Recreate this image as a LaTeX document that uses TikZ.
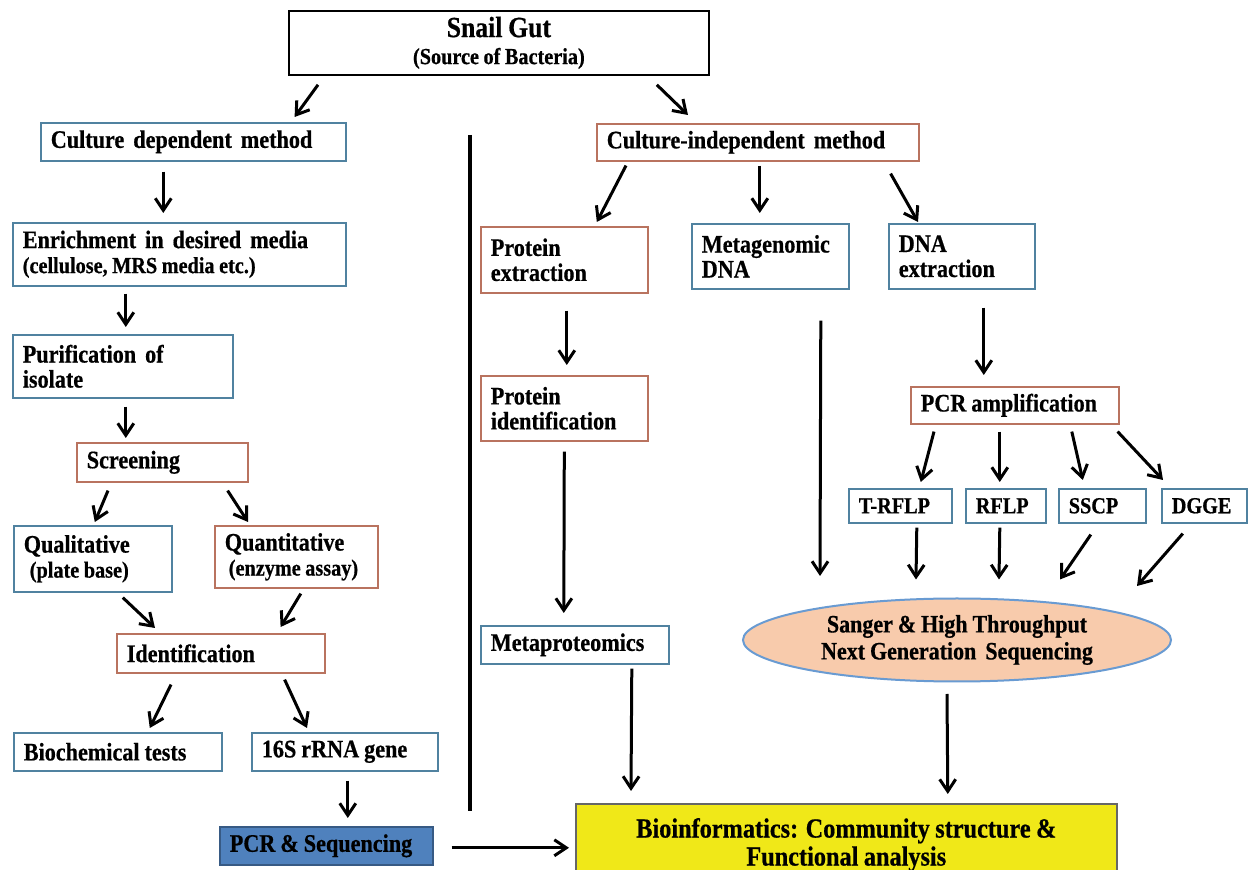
\documentclass[tikz,border=0pt]{standalone}
\usepackage{fontspec}
\setmainfont{Liberation Serif}[FakeStretch=0.88,FakeBold=0.6,WordSpace=0.9]
\usepackage{tikz}
\usetikzlibrary{positioning,arrows.meta,shapes.geometric}
\definecolor{boxline}{RGB}{80,130,160}
\definecolor{boxred}{RGB}{185,115,95}
\definecolor{bioyellow}{RGB}{240,232,24}
\definecolor{seqblue}{RGB}{79,129,189}
\definecolor{peach}{RGB}{248,203,172}
\definecolor{ellline}{RGB}{105,155,210}
\newcommand{\smalltxt}{\fontsize{11.5}{12.5}\selectfont}
\newcommand{\wgap}{\hspace{4.5pt}}
\tikzset{
  box/.style={draw=boxline,line width=0.8pt,anchor=north west,align=flush left,
    inner xsep=5pt,inner ysep=0pt,font=\bfseries\fontsize{12.6}{12.5}\selectfont},
  rbox/.style={box,draw=boxred},
  tbox/.style={box,font=\bfseries\fontsize{11.5}{12}\selectfont},
  flow/.style={line width=1.5pt,-{Straight Barb[length=6pt,width=8pt,line width=1.5pt]}},
  divider/.style={line width=1.6pt}
}

\begin{document}
\begin{tikzpicture}[x=0.5pt,y=-0.5pt]
      \useasboundingbox[fill=white] (0,0) rectangle (1248,870);
      % source
      \node[box,draw=black,line width=0.9pt,align=center,minimum width=210pt,minimum height=32pt] (gut) at (288,10)
        {{\fontsize{14.6}{13}\selectfont Snail Gut}\\[1pt]{\fontsize{11.5}{12}\selectfont (Source of Bacteria)}};
      % culture dependent branch
      \node[box,text width=142.5pt,minimum height=19pt] (dep) at (40,122) {Culture\wgap dependent\wgap method};
      \node[box,text width=156.5pt,minimum height=31.5pt] (enrich) at (12,222)
        {Enrichment\wgap in\wgap desired\wgap media\\{\smalltxt (cellulose, MRS media etc.)}};
      \node[box,text width=100pt,minimum height=31.5pt] (purify) at (12,334) {Purification\wgap of\\isolate};
      \node[rbox,text width=75.5pt,minimum height=19.5pt] (screen) at (76,442) {Screening};
      \node[box,text width=69pt,minimum height=33pt] (qual) at (13,525) {Qualitative\\\hspace*{3pt}{\smalltxt(plate base)}};
      \node[rbox,text width=71.5pt,minimum height=31pt] (quant) at (214,525) {Quantitative\\\hspace*{2pt}{\smalltxt(enzyme assay)}};
      \node[rbox,text width=94pt,minimum height=19.5pt] (ident) at (116,633) {Identification};
      \node[box,text width=94pt,minimum height=19pt] (biochem) at (13,732) {Biochemical tests};
      \node[box,text width=83pt,minimum height=19pt] (rrna) at (251,732) {16S rRNA gene};
      \node[box,draw=seqblue!70!black,fill=seqblue,text width=96.5pt,minimum height=19pt] (pcrseq) at (219,826) {PCR \& Sequencing};
      % culture independent branch
      \node[rbox,text width=151pt,minimum height=18.5pt] (indep) at (596,123) {Culture-independent\wgap method};
      \node[rbox,text width=73.5pt,minimum height=33pt] (protext) at (480,226) {Protein\\extraction};
      \node[box,text width=68.5pt,minimum height=32.5pt] (metadna) at (691,223) {Metagenomic\\DNA};
      \node[box,text width=63pt,minimum height=32.5pt] (dnaext) at (888,223) {DNA\\extraction};
      \node[rbox,text width=73.5pt,minimum height=32.5pt] (protid) at (480,375) {Protein\\identification};
      \node[box,text width=84pt,minimum height=19pt] (metaprot) at (480,625) {Metaproteomics};
      \node[rbox,text width=94pt,minimum height=18.5pt] (pcramp) at (910,386) {PCR amplification};
      \node[tbox,text width=41.5pt,minimum height=17pt] (trflp) at (848,488) {T-RFLP};
      \node[tbox,text width=30pt,minimum height=17pt] (rflp) at (965,488) {RFLP};
      \node[tbox,text width=33.5pt,minimum height=17pt] (sscp) at (1058,488) {SSCP};
      \node[tbox,text width=32.5pt,minimum height=17pt] (dgge) at (1161,488) {DGGE};
      \node[ellipse,draw=ellline,line width=1pt,fill=peach,minimum width=214pt,minimum height=41.5pt,
        inner sep=0pt,align=center,font=\bfseries\fontsize{12.5}{13.5}\selectfont] (seq) at (957,640)
        {Sanger \& High Throughput\\Next Generation\wgap Sequencing};
      \node[box,draw=black!60,fill=bioyellow,align=flush center,text width=260.5pt,minimum height=41pt,
        font=\bfseries\fontsize{13.8}{14}\selectfont] (bioinf) at (575,803)
        {Bioinformatics: Community structure \&\\Functional analysis};
      % divider
      \draw[divider] (470,135) -- (470,811);
      % connectors, left side
      \draw[flow] ([shift={(30,9)}]gut.south west) -- ([shift={(-52,-5)}]dep.north east);
      \draw[flow] ([shift={(-53,9)}]gut.south east) -- ([shift={(92,-8)}]indep.north west);
      \draw[flow] ([shift={(-30,10)}]dep.south) -- ([shift={(-16,-9)}]enrich.north);
      \draw[flow] ([shift={(-53.5,7)}]enrich.south) -- ([shift={(3,-7)}]purify.north);
      \draw[flow] ([shift={(3,8)}]purify.south) -- ([shift={(-36.5,-4)}]screen.north);
      \draw[flow] ([shift={(32,8)}]screen.south west) -- ([shift={(2,-3)}]qual.north);
      \draw[flow] ([shift={(-21,8)}]screen.south east) -- ([shift={(34,-3)}]quant.north west);
      \draw[flow] ([shift={(30,5)}]qual.south) -- ([shift={(39,-5)}]ident.north west);
      \draw[flow] ([shift={(4.5,5)}]quant.south) -- ([shift={(-45,-6)}]ident.north east);
      \draw[flow] ([shift={(55,11)}]ident.south west) -- ([shift={(32,-4)}]biochem.north);
      \draw[flow] ([shift={(-41,6)}]ident.south east) -- ([shift={(56,-4)}]rrna.north west);
      \draw[flow] ([shift={(3,9)}]rrna.south) -- ([shift={(21.5,-8)}]pcrseq.north);
      \draw[flow] ([shift={(18,2)}]pcrseq.east) -- ([shift={(-6,3)}]bioinf.west);
      % connectors, right side
      \draw[flow] ([shift={(30,4)}]indep.south west) -- ([shift={(32.5,-4)}]protext.north);
      \draw[flow] ([shift={(2,4)}]indep.south) -- ([shift={(-10.5,-10)}]metadna.north);
      \draw[flow] ([shift={(-29,12)}]indep.south east) -- ([shift={(30,-1)}]dnaext.north west);
      \draw[flow] ([shift={(2.5,17)}]protext.south) -- ([shift={(2.5,-10)}]protid.north);
      \draw[flow] ([shift={(0,10)}]protid.south) -- ([shift={(-11,-12)}]metaprot.north);
      \draw[flow] ([shift={(57,4)}]metaprot.south) -- ([shift={(56,-12)}]bioinf.north west);
      \draw[flow] ([shift={(50.5,31)}]metadna.south) -- ([shift={(-137,-21.5)}]seq.north);
      \draw[flow] ([shift={(22,18)}]dnaext.south) -- ([shift={(-31,-11)}]pcramp.north);
      \draw[flow] ([shift={(24,7)}]pcramp.south west) -- ([shift={(20.5,-6)}]trflp.north);
      \draw[flow] ([shift={(-15,7)}]pcramp.south) -- ([shift={(-6,-6)}]rflp.north);
      \draw[flow] ([shift={(57,7)}]pcramp.south) -- ([shift={(-19.5,-8)}]sscp.north);
      \draw[flow] ([shift={(-2,7)}]pcramp.south east) -- ([shift={(2,-8)}]dgge.north west);
      \draw[flow] ([shift={(16.5,4)}]trflp.south) -- ([shift={(-41,-18)}]seq.north);
      \draw[flow] ([shift={(-6,4)}]rflp.south) -- ([shift={(42,-18)}]seq.north);
      \draw[flow] ([shift={(-11.5,11)}]sscp.south) -- ([shift={(103,-18)}]seq.north);
      \draw[flow] ([shift={(-21.5,10)}]dgge.south) -- ([shift={(180,-11.5)}]seq.north);
      \draw[flow] ([shift={(-10,11.5)}]seq.south) -- ([shift={(101.5,-9)}]bioinf.north);
    \end{tikzpicture}
\end{document}
